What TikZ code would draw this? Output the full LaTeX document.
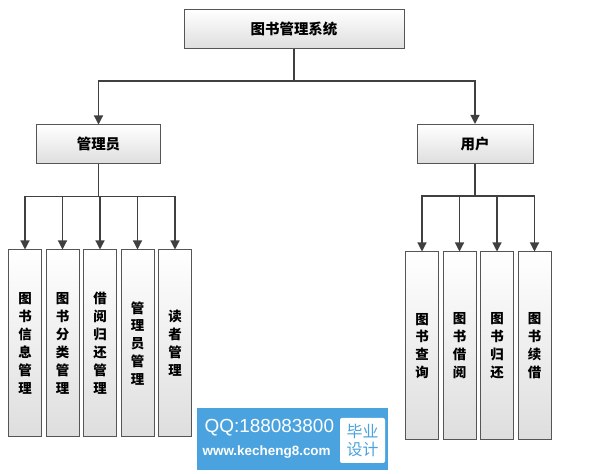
\documentclass[tikz,border=0pt]{standalone}
\usepackage{fontspec}
\setmainfont{Noto Sans CJK SC}
\newfontfamily\latinsans{Liberation Sans}
\usetikzlibrary{positioning,arrows.meta}
\definecolor{linegray}{HTML}{404040}
\definecolor{boxgray}{HTML}{555555}
\definecolor{wmblue}{HTML}{4AA3DF}

\begin{document}
\begin{tikzpicture}[x=1bp,y=1bp,line width=1.2bp,draw=linegray,
                    >={Triangle[width=9bp,length=9bp]},
                    box/.style={draw=boxgray,line width=1bp,
                                top color=white,bottom color=black!13,
                                inner sep=0pt},
                    head/.style={box,minimum height=39bp,
                                 font=\fontsize{14.5}{16}\selectfont\bfseries},
                    leaf/.style={box,align=center,
                                 minimum width=33bp,minimum height=187bp,
                                 font=\fontsize{13.5}{18}\selectfont\bfseries}]
  \useasboundingbox (0,0) rectangle (592,474);
  % top of the tree
  \node[head,minimum width=220bp] (sys) at (294,445) {图书管理系统};
  \node[head,minimum width=123bp] (admin) at (98.5,329.5) {管理员};
  \node[head,minimum width=116bp] (user) at (475,330) {用户};
  % administrator functions
  \node[leaf] (infom) at (25,130.5) {图\\书\\信\\息\\管\\理};
  \node[leaf,right=3.5bp of infom] (catm) {图\\书\\分\\类\\管\\理};
  \node[leaf,right=3.5bp of catm] (lendm) {借\\阅\\归\\还\\管\\理};
  \node[leaf,right=3.5bp of lendm] (staffm) {管\\理\\员\\管\\理};
  \node[leaf,right=3.5bp of staffm] (readm) {读\\者\\管\\理};
  % user functions
  \node[leaf,minimum height=188bp] (query) at (422,128) {图\\书\\查\\询};
  \node[leaf,minimum height=188bp,right=3.5bp of query] (borrow) {图\\书\\借\\阅};
  \node[leaf,minimum height=188bp,right=3.5bp of borrow] (giveback) {图\\书\\归\\还};
  \node[leaf,minimum height=188bp,right=3.5bp of giveback] (renew) {图\\书\\续\\借};
  % connectors
  \coordinate (sysfork) at ([yshift=-32bp]sys.south);
  \coordinate (adminfork) at ([yshift=-32bp]admin.south);
  \coordinate (userfork) at ([yshift=-32bp]user.south);
  \draw (sys.south) -- (sysfork);
  \draw[->] (sysfork) -| (admin.north);
  \draw[->] (sysfork) -| (user.north);
  \draw (admin.south) -- (adminfork);
  \foreach \leaf in {infom,catm,lendm,staffm,readm}
    \draw[->] (adminfork) -| (\leaf.north);
  \draw (user.south) -- (userfork);
  \foreach \leaf in {query,borrow,giveback,renew}
    \draw[->] (userfork) -| (\leaf.north);
  % watermark
  \node[fill=wmblue,minimum width=191bp,minimum height=62bp,inner sep=0pt]
    (mark) at (292.5,35) {};
  \node[text=white,font=\latinsans\fontsize{19}{20}\selectfont,
        anchor=west,inner sep=0pt] (qq) at (204,46) {QQ:188083800};
  \node[text=white,font=\latinsans\fontsize{13.5}{15}\selectfont\bfseries,
        anchor=west,inner sep=0pt] (site) at (202,22) {www.kecheng8.com};
  \node[fill=white,rounded corners=2bp,minimum width=45bp,minimum height=45bp,
        align=center,text=wmblue,inner sep=0pt,
        font=\fontsize{16}{19}\selectfont] (grad) at (362.5,33.5) {毕业\\设计};
\end{tikzpicture}
\end{document}
